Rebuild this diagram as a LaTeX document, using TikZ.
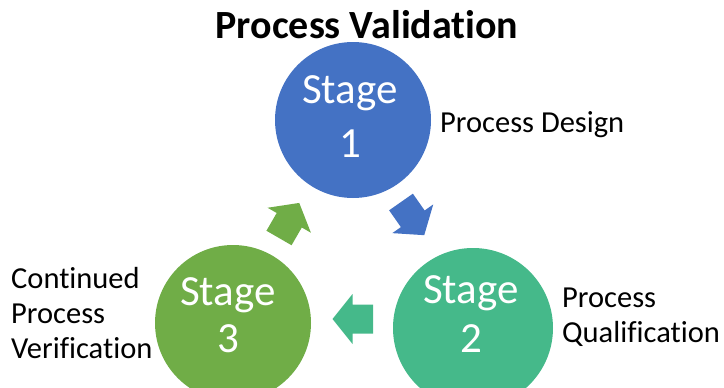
\documentclass[tikz,border=0pt]{standalone}
\usepackage{fontspec}
\setmainfont{Carlito}[Ligatures=NoCommon, RawFeature=-dlig, RawFeature=-clig]
\definecolor{sblue}{HTML}{4472C4}
\definecolor{sgreen}{HTML}{70AD47}
\definecolor{steal}{HTML}{45B98A}
\tikzset{
  stagecircle/.style={circle, inner sep=0pt, minimum size=#1},
  stagetext/.style={anchor=base, text=white, font=\fontsize{43}{43}\selectfont, inner sep=0pt},
  label/.style={anchor=base west, font=\fontsize{30.5}{30.5}\selectfont, inner sep=0pt},
  title/.style={anchor=base, font=\bfseries\fontsize{40}{40}\selectfont, inner sep=0pt},
  pics/blockarrow/.style={code={
    \fill[#1] (0,-14.5) -- (20.5,-14.5) -- (20.5,-25) -- (40.5,0) -- (20.5,25) -- (20.5,14.5) -- (0,14.5) -- cycle;
  }}
}
\begin{document}
\begin{tikzpicture}[x=1pt,y=-1pt]
\useasboundingbox (0,0) rectangle (724,388);
\node[title] (t) at (367,38) {Process Validation};
% circles
\node[stagecircle=156pt, fill=sblue] (s1) at (353,120) {};
\node[stagecircle=160pt, fill=steal] (s2) at (473,328) {};
\node[stagecircle=156pt, fill=sgreen] (s3) at (233,323) {};
% stage texts
\node[stagetext] (s1a) at (350,103) {Stage};
\node[stagetext] (s1b) at (350,157) {1};
\node[stagetext] (s2a) at (471,303) {Stage};
\node[stagetext] (s2b) at (471,352) {2};
\node[stagetext] (s3a) at (228,305) {Stage};
\node[stagetext] (s3b) at (228,352) {3};
% labels
\node[label] (l1) at (440,132) {Process Design};
\node[label] (l2a) at (562,307) {Process};
\node[label] (l2b) at (562,342) {Qualification};
\node[label] (l3a) at (11,288) {Continued};
\node[label] (l3b) at (11,323) {Process};
\node[label] (l3c) at (11,358) {Verification};
% block arrows
\pic[shift={(401,202)}, rotate=-55] {blockarrow=sblue};
\pic[shift={(373,319)}, rotate=180] {blockarrow=steal};
\pic[shift={(279,238)}, rotate=60] {blockarrow=sgreen};
\end{tikzpicture}
\end{document}
